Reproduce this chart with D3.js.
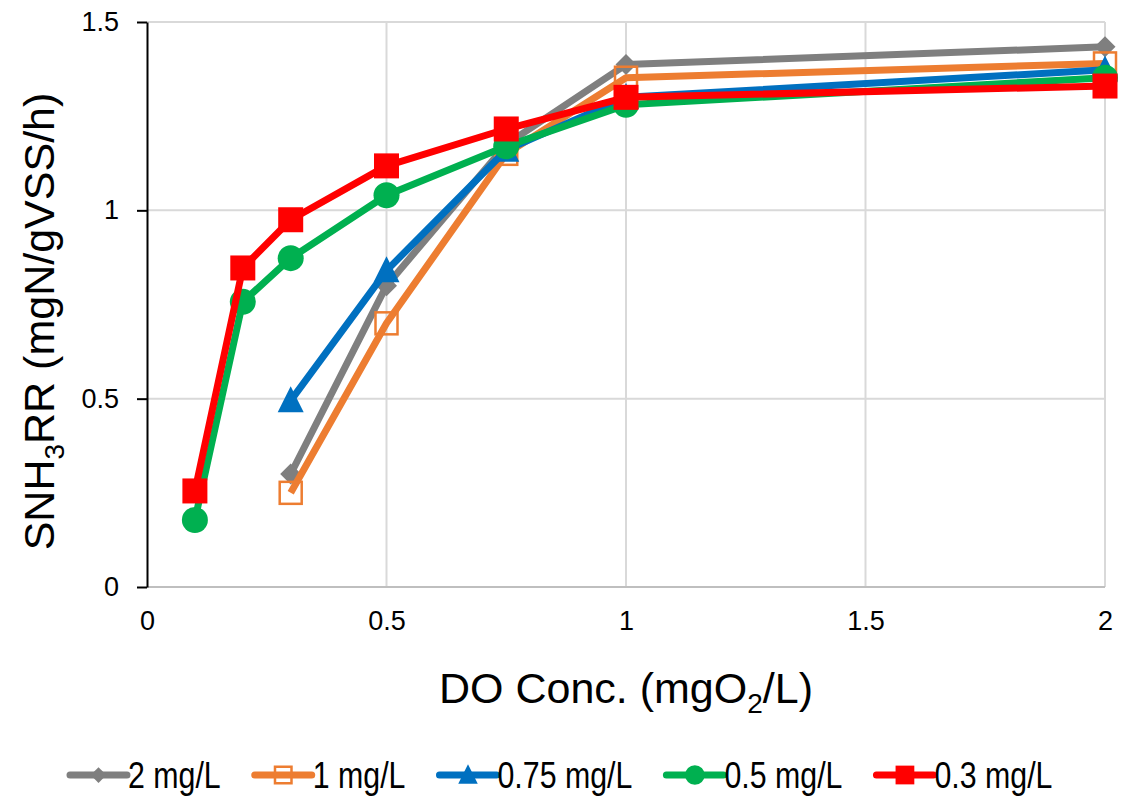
<!DOCTYPE html>
<html>
<head>
<meta charset="utf-8">
<script src="https://cdn.jsdelivr.net/npm/d3@7"></script>
<style>
  body { margin: 0; background: #fff; }
  text { font-family: "Liberation Sans", Arial, sans-serif; fill: #000; }
</style>
</head>
<body>
<svg id="chart" width="1132" height="796"></svg>
<script>
// values
const xTicks = [0, 0.5, 1, 1.5, 2];
const yTicks = [0, 0.5, 1, 1.5];
const xShort = [0.3, 0.5, 0.75, 1, 2];
const xLong = [0.1, 0.2, 0.3, 0.5, 0.75, 1, 2];

const y2 = [0.30, 0.80, 1.175, 1.387, 1.434];
const y1 = [0.25, 0.70, 1.15, 1.352, 1.39];
const y075 = [0.495, 0.84, 1.16, 1.30, 1.373];
const y05 = [0.178, 0.757, 0.873, 1.04, 1.17, 1.28, 1.352];
const y03 = [0.255, 0.847, 0.975, 1.118, 1.216, 1.30, 1.33];

const seriesNames = ["2 mg/L", "1 mg/L", "0.75 mg/L", "0.5 mg/L", "0.3 mg/L"];
const seriesColors = ["#7f7f7f", "#ed7d31", "#0070c0", "#00b050", "#ff0000"];
const seriesShapes = ["diamond", "openSquare", "triangle", "circle", "square"];

const series = [
  { xs: xShort, ys: y2 },
  { xs: xShort, ys: y1 },
  { xs: xShort, ys: y075 },
  { xs: xLong, ys: y05 },
  { xs: xLong, ys: y03 }
].map((s, i) => ({
  name: seriesNames[i],
  color: seriesColors[i],
  shape: seriesShapes[i],
  points: s.xs.map((x, j) => ({ x, y: s.ys[j] }))
}));

const svg = d3.select("#chart");
const margin = { top: 22, left: 147, right: 27, bottom: 209 };
const W = 1132, H = 796;

const x = d3.scaleLinear().domain([0, 2]).range([margin.left, W - margin.right]);
const y = d3.scaleLinear().domain([0, 1.5]).range([H - margin.bottom, margin.top]);

// grid
svg.append("g")
  .selectAll("line.v")
  .data(xTicks.filter(d => d > 0))
  .join("line")
  .attr("x1", d => x(d)).attr("x2", d => x(d))
  .attr("y1", y(0)).attr("y2", y(1.5))
  .attr("stroke", "#d9d9d9").attr("stroke-width", 2);

svg.append("g")
  .selectAll("line.h")
  .data(yTicks.filter(d => d > 0))
  .join("line")
  .attr("x1", x(0)).attr("x2", x(2))
  .attr("y1", d => y(d)).attr("y2", d => y(d))
  .attr("stroke", "#d9d9d9").attr("stroke-width", 2);

// x axis baseline
svg.append("line")
  .attr("x1", x(0)).attr("x2", x(2))
  .attr("y1", y(0)).attr("y2", y(0))
  .attr("stroke", "#bfbfbf").attr("stroke-width", 2);

const xAxis = svg.append("g")
  .attr("transform", `translate(0,${ y(0) })`)
  .call(d3.axisBottom(x).tickValues(xTicks).tickSize(0).tickPadding(24).tickFormat(d3.format("")));
xAxis.select(".domain").remove();
xAxis.selectAll("text")
  .style("font-family", '"Liberation Sans", Arial, sans-serif')
  .style("font-size", "27px").attr("fill", "#000");

const yAxis = svg.append("g")
  .attr("transform", `translate(${ x(0) },0)`)
  .call(d3.axisLeft(y).tickValues(yTicks).tickSize(10).tickPadding(18).tickSizeOuter(0).tickFormat(d3.format("")));
yAxis.select(".domain").attr("stroke", "#000").attr("stroke-width", 2);
yAxis.selectAll(".tick line").attr("stroke", "#000").attr("stroke-width", 2);
yAxis.selectAll("text")
  .style("font-family", '"Liberation Sans", Arial, sans-serif')
  .style("font-size", "27px").attr("fill", "#000");

// axis titles
const xt = svg.append("text")
  .attr("x", x(1)).attr("y", 703)
  .attr("text-anchor", "middle")
  .style("font-size", "43px");
xt.append("tspan").text("DO Conc. (mgO");
xt.append("tspan").attr("dy", 10).style("font-size", "28px").text("2");
xt.append("tspan").attr("dy", -10).text("/L)");

const yt = svg.append("text")
  .attr("transform", `translate(54,${ (y(0) + y(1.5)) / 2 + 17 }) rotate(-90)`)
  .attr("text-anchor", "middle")
  .style("font-size", "43px");
yt.append("tspan").text("SNH");
yt.append("tspan").attr("dy", 10).style("font-size", "28px").text("3");
yt.append("tspan").attr("dy", -10).text("RR (mgN/gVSS/h)");

// marker drawing
function marker(sel, shape, color, s) {
  if (shape === "diamond") {
    sel.append("path").attr("d", `M0,${ -s }L${ s },0L0,${ s }L${ -s },0Z`).attr("fill", color);
  } else if (shape === "openSquare") {
    sel.append("rect").attr("x", -s).attr("y", -s).attr("width", 2 * s).attr("height", 2 * s)
      .attr("fill", "none").attr("stroke", color).attr("stroke-width", 2.5);
  } else if (shape === "triangle") {
    sel.append("path").attr("d", `M0,${ -s * 1.1 }L${ s },${ s * 0.9 }L${ -s },${ s * 0.9 }Z`).attr("fill", color);
  } else if (shape === "circle") {
    sel.append("circle").attr("r", s).attr("fill", color);
  } else {
    sel.append("rect").attr("x", -s).attr("y", -s).attr("width", 2 * s).attr("height", 2 * s).attr("fill", color);
  }
}
const markerSize = { diamond: 10.5, openSquare: 11, triangle: 13, circle: 13, square: 12.5 };

const line = d3.line().x(d => x(d.x)).y(d => y(d.y));

series.forEach(s => {
  const g = svg.append("g");
  g.append("path")
    .attr("d", line(s.points))
    .attr("fill", "none")
    .attr("stroke", s.color)
    .attr("stroke-width", 7)
    .attr("stroke-linejoin", "round");
  g.selectAll("g.pt")
    .data(s.points)
    .join("g")
    .attr("transform", d => `translate(${ x(d.x) },${ y(d.y) })`)
    .each(function () { marker(d3.select(this), s.shape, s.color, markerSize[s.shape]); });
});

// legend
const legend = svg.append("g").attr("transform", "translate(0,775)");
const sx = 0.82;
let lx = 70;
series.forEach(s => {
  const g = legend.append("g").attr("transform", `translate(${ lx },0)`);
  g.append("line").attr("x1", 0).attr("x2", 57).attr("y1", 0).attr("y2", 0)
    .attr("stroke", s.color).attr("stroke-width", 7).attr("stroke-linecap", "round");
  const mg = g.append("g").attr("transform", "translate(28.5,0)");
  marker(mg, s.shape, s.color, markerSize[s.shape] * 0.75);
  const t = g.append("text")
    .attr("transform", `translate(58,13) scale(${ sx },1)`)
    .style("font-size", "37px")
    .text(s.name);
  const w = t.node().getComputedTextLength() * sx;
  lx += 58 + w + 34;
});
</script>
</body>
</html>
